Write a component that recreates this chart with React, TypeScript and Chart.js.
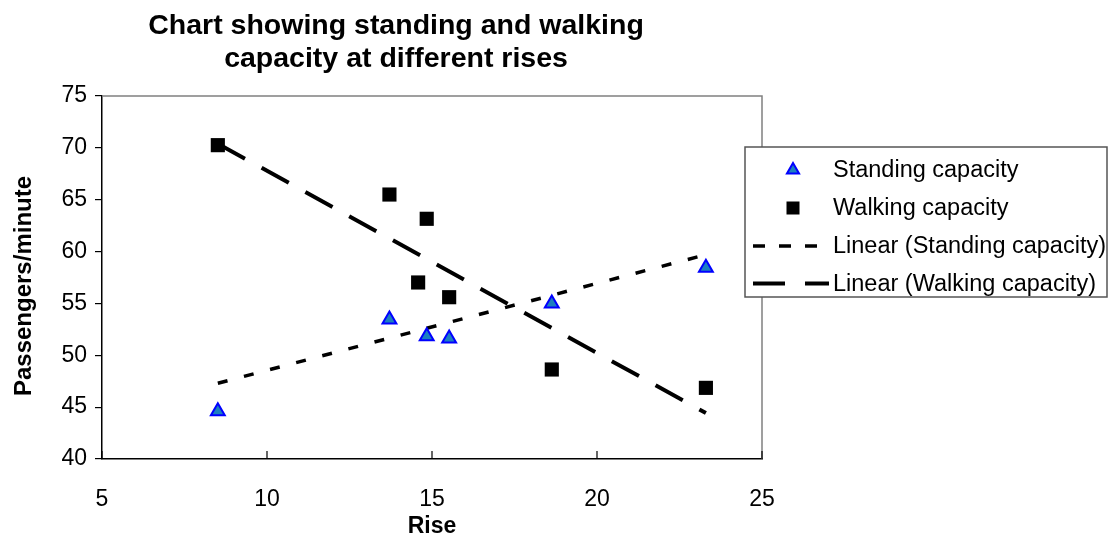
import React, { useEffect, useRef } from 'react';
import { Chart, registerables } from 'chart.js';

Chart.register(...registerables);

const titleLines = ['Chart showing standing and walking', 'capacity at different rises'];
const xAxisTitle = 'Rise';
const yAxisTitle = 'Passengers/minute';
const xTicks = [5, 10, 15, 20, 25];
const yTicks = [40, 45, 50, 55, 60, 65, 70, 75];

const standingRise = [8.51, 13.71, 14.84, 15.52, 18.63, 23.3];
const standingCapacity = [44.6, 53.45, 51.84, 51.62, 55.0, 58.43];
const walkingRise = [8.51, 13.71, 14.84, 14.58, 15.52, 18.63, 23.3];
const walkingCapacity = [70.26, 65.5, 63.16, 57.02, 55.6, 48.63, 46.86];
const standingTrendRise = [8.51, 23.3];
const standingTrendValues = [47.3, 59.7];
const walkingTrendRise = [8.51, 23.3];
const walkingTrendValues = [70.4, 44.43];

const legendLabels = [
  'Standing capacity',
  'Walking capacity',
  'Linear (Standing capacity)',
  'Linear (Walking capacity)',
];

const FONT = "'Liberation Sans', Arial, sans-serif";
const TRI_FILL = '#1C7FC0';
const TRI_BORDER = '#0000FF';

const toPoints = (xs: number[], ys: number[]) => xs.map((x, i) => ({ x, y: ys[i] }));

const decorPlugin = {
  id: 'decor',
  beforeDatasetsDraw(chart: any) {
    const { ctx, chartArea } = chart;
    const { left, right, top, bottom } = chartArea;
    ctx.save();
    ctx.strokeStyle = '#808080';
    ctx.lineWidth = 1.5;
    ctx.beginPath();
    ctx.moveTo(left, top);
    ctx.lineTo(right, top);
    ctx.lineTo(right, bottom);
    ctx.stroke();
    const xs = chart.scales.x;
    ctx.strokeStyle = '#000';
    ctx.lineWidth = 1.2;
    xTicks.forEach((v) => {
      const px = xs.getPixelForValue(v);
      ctx.beginPath();
      ctx.moveTo(px, bottom);
      ctx.lineTo(px, bottom - 8);
      ctx.stroke();
    });
    ctx.restore();
  },
  afterDraw(chart: any) {
    const { ctx, chartArea } = chart;
    ctx.save();
    // Title
    ctx.fillStyle = '#000';
    ctx.font = `bold 28.5px ${FONT}`;
    ctx.textAlign = 'center';
    ctx.textBaseline = 'alphabetic';
    ctx.fillText(titleLines[0], 396, 34);
    ctx.fillText(titleLines[1], 396, 67);

    // Y axis title
    ctx.save();
    ctx.translate(24, 286);
    ctx.rotate(-Math.PI / 2);
    ctx.font = `bold 24px ${FONT}`;
    ctx.textAlign = 'center';
    ctx.textBaseline = 'middle';
    ctx.fillText(yAxisTitle, 0, 0);
    ctx.restore();

    // X axis title
    ctx.font = `bold 23px ${FONT}`;
    ctx.textAlign = 'center';
    ctx.textBaseline = 'middle';
    ctx.fillText(xAxisTitle, (chartArea.left + chartArea.right) / 2, 527);

    // Legend
    const bx = 745, by = 147, bw = 362, bh = 150;
    ctx.fillStyle = '#fff';
    ctx.fillRect(bx, by, bw, bh);
    ctx.strokeStyle = '#555';
    ctx.lineWidth = 1.5;
    ctx.strokeRect(bx, by, bw, bh);

    const rows = [170, 208, 246, 283.5];
    const mx = 793;
    // triangle
    ctx.beginPath();
    const r = 7;
    ctx.moveTo(mx, rows[0] - r);
    ctx.lineTo(mx + r * 0.866, rows[0] + r * 0.5);
    ctx.lineTo(mx - r * 0.866, rows[0] + r * 0.5);
    ctx.closePath();
    ctx.fillStyle = TRI_FILL;
    ctx.fill();
    ctx.strokeStyle = TRI_BORDER;
    ctx.lineWidth = 2;
    ctx.stroke();
    // square
    ctx.fillStyle = '#000';
    ctx.fillRect(mx - 6.5, rows[1] - 6.5, 13, 13);
    // dotted line
    ctx.strokeStyle = '#000';
    ctx.lineWidth = 3.5;
    ctx.setLineDash([12, 14]);
    ctx.beginPath();
    ctx.moveTo(753, rows[2]);
    ctx.lineTo(817, rows[2]);
    ctx.stroke();
    // dashed line
    ctx.lineWidth = 4;
    ctx.setLineDash([32, 20]);
    ctx.beginPath();
    ctx.moveTo(753, rows[3]);
    ctx.lineTo(829, rows[3]);
    ctx.stroke();
    ctx.setLineDash([]);

    ctx.fillStyle = '#000';
    ctx.font = `23.5px ${FONT}`;
    ctx.textAlign = 'left';
    ctx.textBaseline = 'middle';
    legendLabels.forEach((t, i) => ctx.fillText(t, 833, rows[i] + 1));
    ctx.restore();
  },
};

export default function App() {
  const canvasRef = useRef<HTMLCanvasElement | null>(null);

  useEffect(() => {
    if (!canvasRef.current) return;
    const chart = new Chart(canvasRef.current, {
      type: 'scatter',
      data: {
        datasets: [
          {
            label: legendLabels[0],
            data: toPoints(standingRise, standingCapacity),
            pointStyle: 'triangle',
            pointRadius: 8,
            pointHoverRadius: 8,
            backgroundColor: TRI_FILL,
            borderColor: TRI_BORDER,
            borderWidth: 2,
          },
          {
            label: legendLabels[1],
            data: toPoints(walkingRise, walkingCapacity),
            pointStyle: 'rect',
            pointRadius: 10,
            pointHoverRadius: 10,
            backgroundColor: '#000',
            borderColor: '#000',
            borderWidth: 0,
          },
          {
            label: legendLabels[2],
            data: toPoints(standingTrendRise, standingTrendValues),
            showLine: true,
            pointRadius: 0,
            borderColor: '#000',
            borderWidth: 3.5,
            borderDash: [10, 17],
            borderCapStyle: 'butt',
            fill: false,
          } as any,
          {
            label: legendLabels[3],
            data: toPoints(walkingTrendRise, walkingTrendValues),
            showLine: true,
            pointRadius: 0,
            borderColor: '#000',
            borderWidth: 4,
            borderDash: [31, 19],
            borderCapStyle: 'butt',
            fill: false,
          } as any,
        ],
      },
      options: {
        animation: false,
        responsive: true,
        maintainAspectRatio: false,
        layout: { padding: { top: 96, right: 348, left: 0, bottom: 0 } },
        plugins: {
          legend: { display: false },
          title: { display: false },
          tooltip: { enabled: false },
        },
        scales: {
          x: {
            type: 'linear',
            min: 5,
            max: 25,
            afterFit: (s: any) => {
              s.height = 80;
            },
            afterBuildTicks: (s: any) => {
              s.ticks = xTicks.map((v) => ({ value: v }));
            },
            grid: { display: false },
            border: { display: true, color: '#000', width: 1.5 },
            ticks: {
              color: '#000',
              padding: 19,
              maxRotation: 0,
              font: { family: FONT, size: 23 },
            },
            title: { display: false },
          },
          y: {
            type: 'linear',
            min: 40,
            max: 75,
            afterFit: (s: any) => {
              s.width = 102;
            },
            afterBuildTicks: (s: any) => {
              s.ticks = yTicks.map((v) => ({ value: v }));
            },
            grid: {
              display: true,
              drawOnChartArea: false,
              drawTicks: true,
              tickLength: 7,
              color: '#000',
              lineWidth: 1.2,
            },
            border: { display: true, color: '#000', width: 1.5 },
            ticks: {
              color: '#000',
              padding: 8,
              font: { family: FONT, size: 23 },
            },
            title: { display: false },
          },
        },
      } as any,
      plugins: [decorPlugin],
    });
    return () => chart.destroy();
  }, []);

  return (
    <div style={{ position: 'absolute', left: 0, top: 0, width: 1110, height: 539, background: '#fff' }}>
      <canvas ref={canvasRef} />
    </div>
  );
}
